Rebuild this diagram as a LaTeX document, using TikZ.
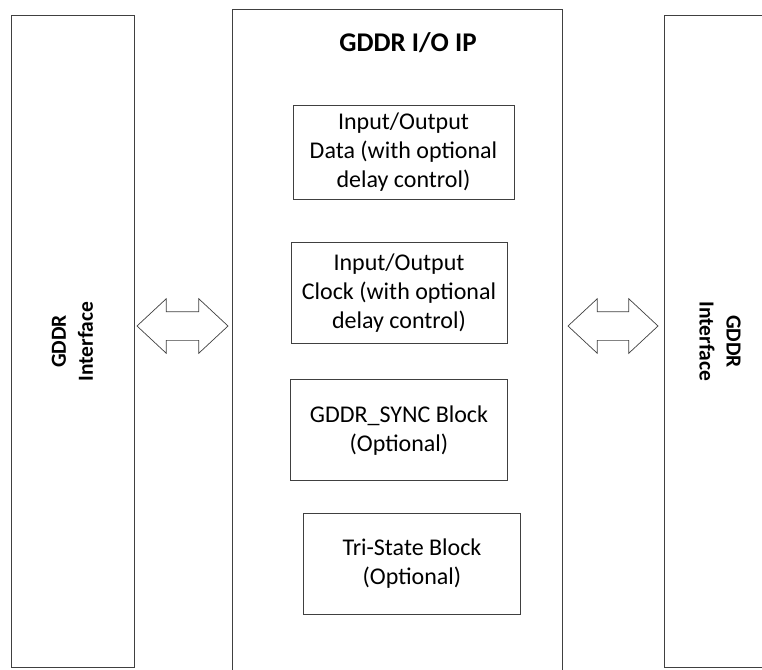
\documentclass[tikz,border=0pt]{standalone}
\usepackage{fontspec}
\setmainfont{Carlito}
\usepackage{tikz}
\usetikzlibrary{shapes.arrows, positioning}

\begin{document}
\begin{tikzpicture}[
  x=1pt, y=-1pt,
  iface/.style={rectangle, draw=black!75, line width=0.8pt, minimum width=#1, minimum height=652pt, inner sep=0pt},
  ipbox/.style={rectangle, draw=black!75, line width=0.8pt, minimum width=330pt, minimum height=681pt, inner sep=0pt},
  block/.style={rectangle, draw=black!75, line width=0.8pt, minimum width=217pt, minimum height=101pt, align=center, inner sep=0pt, font=\fontsize{24}{29}\selectfont},
  vlabel/.style={align=center, font=\fontsize{21.5}{27}\selectfont\bfseries},
  bus/.style={double arrow, draw=black!75, line width=0.7pt, fill=white, inner xsep=0pt, inner ysep=14pt, minimum height=91pt, double arrow head extend=13pt, double arrow tip angle=86}
]
\clip (0,0) rectangle (762,669);

\node[iface=123pt] (gddrL) at (72.5,341.5) {};
\node[ipbox] (io) at (397,349.5) {};
\node[iface=112pt] (gddrR) at (720,341.5) {};

\node[vlabel, rotate=90] (txtL) at (gddrL) {GDDR\\Interface};
\node[vlabel, rotate=-90] (txtR) at (gddrR) {GDDR\\Interface};

\node[font=\fontsize{27}{32}\selectfont\bfseries] (title) at (408,43) {GDDR I/O IP};

\node[block, minimum width=221pt, minimum height=94pt] (data) at (403.5,152) {Input/Output\\Data (with optional\\delay control)};
\node[block, minimum width=216pt, below=43pt of data, xshift=-4.5pt] (clock) {Input/Output\\Clock (with optional\\delay control)};
\node[block, below=35pt of clock] (sync) {GDDR\_SYNC Block\\(Optional)};
\node[block, below=32pt of sync, xshift=13pt] (tri) {Tri-State Block\\(Optional)};

\node[bus] (busL) at (182.5,326) {};
\node[bus, minimum height=90pt] (busR) at (613,326) {};

\end{tikzpicture}
\end{document}
